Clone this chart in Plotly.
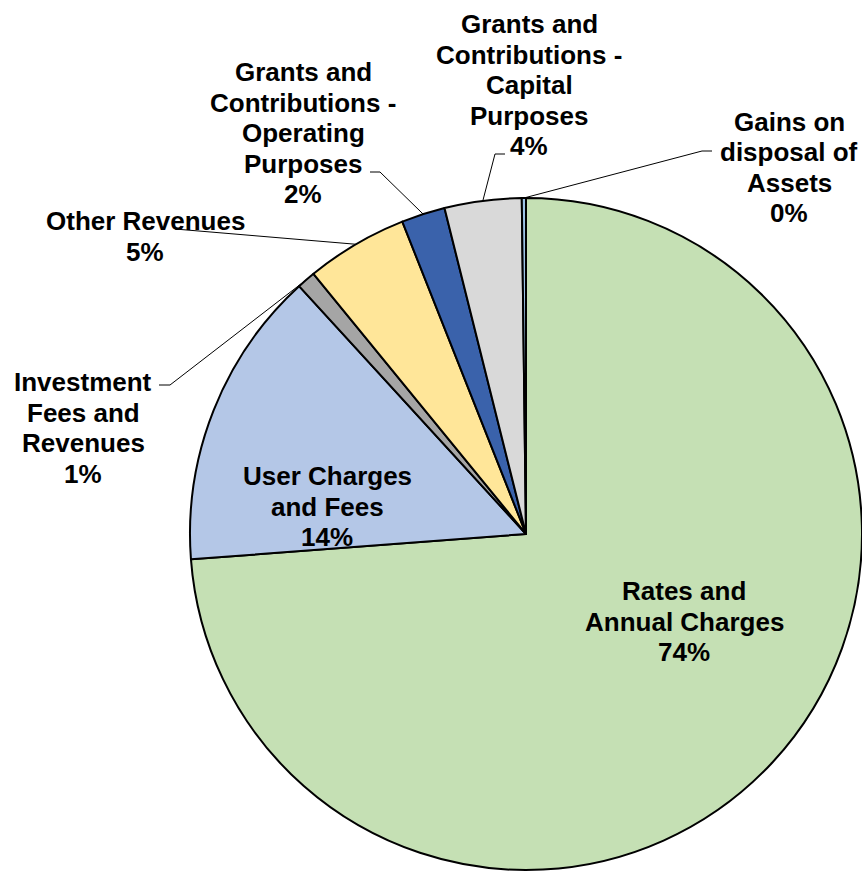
import math
import plotly.graph_objects as go

# Revenue breakdown (share of total, %)
categories = [
    "Rates and Annual Charges",
    "User Charges and Fees",
    "Investment Fees and Revenues",
    "Other Revenues",
    "Grants and Contributions - Operating Purposes",
    "Grants and Contributions - Capital Purposes",
    "Gains on disposal of Assets",
]
values = [73.8, 14.4, 0.9, 4.9, 2.1, 3.7, 0.2]
colors = ["#C5E0B4", "#B4C7E7", "#A5A5A5", "#FFE699", "#3A62AB", "#D9D9D9", "#9DC3E6"]

# Wrapped label text for each slice
label_lines = [
    ["Rates and", "Annual Charges"],
    ["User Charges", "and Fees"],
    ["Investment", "Fees and", "Revenues"],
    ["Other Revenues"],
    ["Grants and", "Contributions -", "Operating", "Purposes"],
    ["Grants and", "Contributions -", "Capital", "Purposes"],
    ["Gains on", "disposal of", "Assets"],
]

W, H = 862, 872
FONT = dict(family="Liberation Sans, Arial, sans-serif", size=26, color="black", weight="bold")
LINE_STEP = 30.6

# Label placement in pixels: centre x, centre y of first line
label_pos = [(684, 591), (327, 476), (83, 382), (145, 221), (303, 72), (529, 24), (789, 121.5)]
# Leader-line bend points from the slice edge towards the label (pixels)
leader = [
    None,
    None,
    [(170, 385), (159, 385)],
    [(175, 229)],
    [(380, 172), (370, 172)],
    [(495, 154), (505, 154)],
    [(702, 151), (712, 151)],
]

# Pie domain (pixels) -> paper
px_left, px_right = 190, 862
py_top, py_bottom = 198, 870
dom_x = [px_left / W, px_right / W]
dom_y = [(H - py_bottom) / H, (H - py_top) / H]
cx = (px_left + px_right) / 2
cy = (py_top + py_bottom) / 2
R = min(px_right - px_left, py_bottom - py_top) / 2


def to_paper(x, y):
    return x / W, 1 - y / H


fig = go.Figure(
    go.Pie(
        labels=categories,
        values=values,
        sort=False,
        direction="clockwise",
        rotation=0,
        marker=dict(colors=colors, line=dict(color="black", width=2)),
        textinfo="none",
        hoverinfo="label+percent",
        showlegend=False,
        domain=dict(x=dom_x, y=dom_y),
    )
)

total = sum(values)
annotations = []
shapes = []
cum = 0.0
for i, v in enumerate(values):
    mid = (cum + v / 2) / total * 2 * math.pi
    cum += v
    pct = f"{round(v / total * 100)}%"
    lines = label_lines[i] + [pct]
    lx, ly = label_pos[i]
    for k, t in enumerate(lines):
        xp, yp = to_paper(lx, ly + k * LINE_STEP)
        annotations.append(
            dict(text=t, x=xp, y=yp, xref="paper", yref="paper",
                 xanchor="center", yanchor="middle", showarrow=False, font=FONT)
        )
    if leader[i]:
        ex = cx + R * math.sin(mid)
        ey = cy - R * math.cos(mid)
        pts = [(ex, ey)] + leader[i]
        path = ""
        for j, (x, y) in enumerate(pts):
            xp, yp = to_paper(x, y)
            path += ("M" if j == 0 else "L") + f"{xp},{yp} "
        shapes.append(dict(type="path", path=path.strip(), xref="paper", yref="paper",
                           line=dict(color="black", width=1)))

fig.update_layout(
    width=W,
    height=H,
    margin=dict(l=0, r=0, t=0, b=0),
    paper_bgcolor="white",
    plot_bgcolor="white",
    annotations=annotations,
    shapes=shapes,
)

fig.write_html("out.html")
